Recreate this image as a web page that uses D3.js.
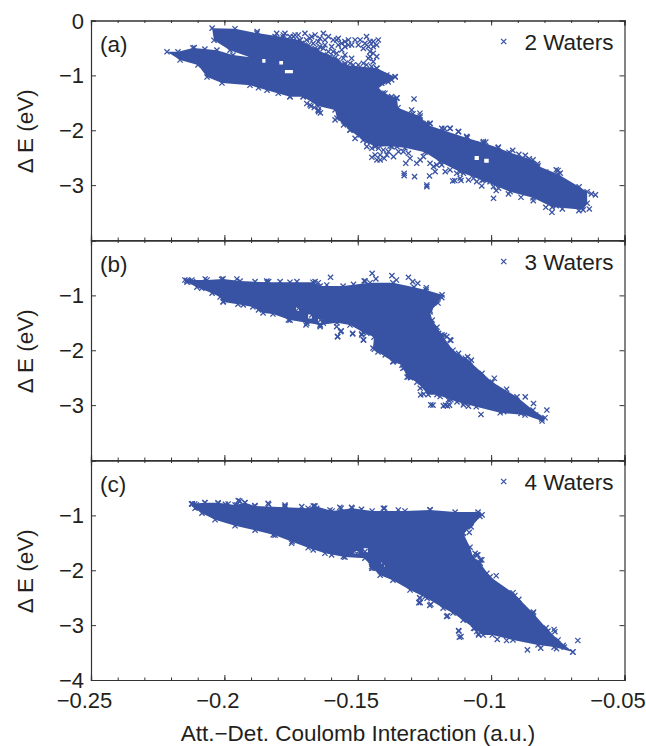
<!DOCTYPE html>
<html>
<head>
<meta charset="utf-8">
<script src="https://cdn.jsdelivr.net/npm/d3@7"></script>
<style>
  html, body { margin: 0; padding: 0; background: #fff; }
  text { font-family: "Liberation Sans", Arial, sans-serif; fill: #231f20; }
</style>
</head>
<body>
<div id="chart"></div>
<script>
// dense part of each cloud: outline [x, dE]
const outlineA = [[-.2215,-.57],[-.2174,-.57],[-.2118,-.5],[-.2073,-.52],[-.2028,-.54],[-.1968,-.63],[-.1904,-.67],[-.1979,-.54],[-.2039,-.36],[-.2046,-.14],[-.196,-.15],[-.1878,-.23],[-.178,-.3],[-.1716,-.36],[-.1649,-.54],[-.1585,-.68],[-.1548,-.81],[-.1428,-.87],[-.136,-1.03],[-.1386,-1.12],[-.1424,-1.23],[-.1405,-1.32],[-.1353,-1.41],[-.1349,-1.59],[-.1293,-1.7],[-.1266,-1.74],[-.124,-1.9],[-.118,-2],[-.109,-2.14],[-.103,-2.23],[-.0974,-2.32],[-.0933,-2.4],[-.0843,-2.54],[-.0824,-2.65],[-.0749,-2.8],[-.067,-3.03],[-.064,-3.12],[-.064,-3.33],[-.0655,-3.45],[-.0771,-3.4],[-.0843,-3.23],[-.0929,-3.12],[-.1034,-2.91],[-.1116,-2.76],[-.1191,-2.58],[-.1248,-2.4],[-.1323,-2.32],[-.1379,-2.29],[-.1435,-2.3],[-.148,-2.18],[-.1529,-2],[-.1578,-1.78],[-.1585,-1.63],[-.1649,-1.56],[-.1705,-1.39],[-.1754,-1.39],[-.184,-1.27],[-.1904,-1.18],[-.2009,-1.14],[-.2065,-1.03],[-.2099,-.81],[-.2166,-.72]];
const outlineB = [[-.2148,-.72],[-.2065,-.72],[-.2005,-.7],[-.1941,-.74],[-.184,-.76],[-.1754,-.76],[-.1668,-.76],[-.1641,-.83],[-.1555,-.83],[-.1454,-.77],[-.1368,-.77],[-.1289,-.85],[-.1244,-.9],[-.1184,-.99],[-.1199,-1.14],[-.1229,-1.3],[-.1221,-1.45],[-.1203,-1.58],[-.1184,-1.72],[-.1143,-2],[-.1079,-2.21],[-.0996,-2.58],[-.0903,-2.85],[-.0843,-3.09],[-.0798,-3.23],[-.0809,-3.29],[-.0873,-3.18],[-.0966,-3.14],[-.1056,-3.03],[-.1128,-2.94],[-.1203,-2.81],[-.1236,-2.81],[-.1278,-2.58],[-.1315,-2.49],[-.1334,-2.27],[-.1368,-2.21],[-.1424,-2.03],[-.1443,-1.96],[-.1439,-1.76],[-.148,-1.67],[-.1529,-1.54],[-.1578,-1.5],[-.1641,-1.54],[-.1754,-1.45],[-.1818,-1.34],[-.1855,-1.32],[-.1893,-1.21],[-.1949,-1.16],[-.2005,-1.12],[-.2016,-1.03],[-.2046,-.96],[-.2103,-.85],[-.214,-.76]];
const outlineC = [[-.2121,-.79],[-.2073,-.77],[-.2024,-.77],[-.196,-.81],[-.1923,-.77],[-.1885,-.83],[-.1773,-.85],[-.1686,-.87],[-.166,-.83],[-.1596,-.92],[-.1521,-.87],[-.1446,-.92],[-.1323,-.92],[-.1229,-.9],[-.1135,-.94],[-.1049,-.94],[-.1034,-.99],[-.1075,-1.21],[-.1105,-1.32],[-.1079,-1.58],[-.1068,-1.76],[-.1041,-1.87],[-.1004,-2.12],[-.0918,-2.41],[-.0843,-2.78],[-.0794,-3.05],[-.0749,-3.27],[-.0693,-3.49],[-.0764,-3.4],[-.0824,-3.36],[-.0918,-3.27],[-.0996,-3.18],[-.103,-3.18],[-.1105,-2.91],[-.1143,-2.78],[-.118,-2.69],[-.124,-2.51],[-.1304,-2.36],[-.1368,-2.18],[-.1416,-2.09],[-.1446,-1.96],[-.1473,-1.78],[-.1548,-1.76],[-.1623,-1.69],[-.1686,-1.59],[-.1746,-1.48],[-.181,-1.36],[-.1885,-1.27],[-.196,-1.19],[-.2035,-1.08],[-.2084,-.96],[-.211,-.87]];

// white gaps inside the dense part
const holesA = [[[-.1773,-.9],[-.1743,-.9],[-.1743,-.96],[-.1773,-.96]],[[-.1062,-2.47],[-.1046,-2.47],[-.1046,-2.54],[-.1062,-2.54]],[[-.1026,-2.52],[-.1009,-2.52],[-.1009,-2.59],[-.1026,-2.59]],[[-.1858,-.7],[-.1846,-.7],[-.1846,-.77],[-.1858,-.77]],[[-.1794,-.74],[-.178,-.74],[-.178,-.8],[-.1794,-.8]]];
const holesB = [[[-.1731,-1.22],[-.172,-1.22],[-.172,-1.28],[-.1731,-1.28]],[[-.1686,-1.35],[-.1672,-1.35],[-.1672,-1.42],[-.1686,-1.42]],[[-.1649,-1.43],[-.1636,-1.43],[-.1636,-1.5],[-.1649,-1.5]]];
const holesC = [[[-.1512,-1.65],[-.1498,-1.65],[-.1498,-1.7],[-.1512,-1.7]],[[-.1478,-1.6],[-.1462,-1.6],[-.1462,-1.67],[-.1478,-1.67]],[[-.1412,-1.86],[-.1398,-1.86],[-.1398,-1.93],[-.1412,-1.93]]];

// single crosses that can be told apart round the clouds
const pointsA = [[-.2113,-.494],[-.1877,-.201],
  [-.1773,-.234],[-.1754,-.294],[-.1785,-.355],[-.1735,-.446],[-.176,-.477],[-.1717,-.355],[-.1698,-.234],[-.1692,-.355],[-.1667,-.416],[-.1648,-.386],[-.1629,-.234],[-.1642,-.325],[-.161,-.294],[-.1592,-.355],[-.1623,-.446],[-.1598,-.477],[-.1573,-.446],[-.1548,-.386],[-.1535,-.355],[-.156,-.537],[-.1579,-.598],[-.1548,-.628],[-.1573,-.719],[-.151,-.355],[-.1498,-.446],[-.1467,-.294],[-.1454,-.386],[-.1423,-.355],[-.1442,-.477],[-.1454,-.568],[-.1429,-.659],[-.146,-.689],[-.1479,-.78],[-.1517,-.81],[-.1548,-.78],[-.1479,-.507],[-.1442,-.75],[-.1604,-.659],[-.1629,-.628],[-.1654,-.598],[-.1679,-.537],[-.1704,-.507],[-.1523,-.689],[-.1535,-.446],[-.1579,-.355],[-.1673,-.294],[-.1735,-.264],[-.181,-.294],
  [-.1804,-.234],[-.1741,-.294],[-.1723,-.264],[-.1679,-.325],[-.166,-.264],[-.1623,-.355],[-.1642,-.477],[-.166,-.507],[-.161,-.568],[-.1592,-.568],[-.156,-.416],[-.1573,-.325],[-.1523,-.446],[-.1554,-.689],[-.1579,-.78],[-.1529,-.78],[-.1498,-.81],[-.1467,-.81],[-.1448,-.841],[-.1429,-.871],[-.1454,-.659],[-.1442,-.598],[-.1473,-.416],[-.1491,-.355],[-.1442,-.386],[-.1429,-.446],[-.146,-.477],[-.1548,-.477],[-.1629,-.507],[-.1685,-.446],[-.171,-.416],[-.1729,-.386],[-.1754,-.386],[-.1779,-.264],
  [-.136,-1.023],[-.1373,-1.083],[-.1391,-.993],[-.141,-1.144],[-.1398,-1.326],[-.1354,-1.417],[-.1373,-1.387],[-.1289,-1.43],[-.1298,-1.63],[-.1267,-1.69],[-.1242,-1.903],[-.1229,-1.873],[-.1185,-1.964],[-.1154,-1.964],[-.1123,-2.024],[-.1092,-2.115],[-.1798,-1.326],[-.1754,-1.387],[-.1704,-1.387],[-.1679,-1.539],[-.1648,-1.63],[-.1585,-1.812],
  [-.1553,-1.904],[-.1529,-1.995],[-.151,-2.147],[-.1491,-2.086],[-.1466,-2.208],[-.1447,-2.329],[-.1435,-2.45],[-.1447,-2.493],[-.1416,-2.541],[-.1401,-2.511],[-.1385,-2.39],[-.1366,-2.481],[-.1347,-2.39],[-.1422,-2.329],[-.1372,-2.299],[-.132,-2.602],[-.1279,-2.602],[-.1266,-2.541],[-.131,-2.42],[-.1326,-2.784],[-.1326,-2.827],[-.1287,-2.845],[-.1241,-2.997],[-.1241,-3.027],[-.1231,-2.833],[-.121,-2.754],[-.1216,-2.663],[-.1172,-2.754],[-.1144,-2.924],[-.1116,-2.875],[-.1129,-2.784],[-.1085,-2.906],[-.1054,-2.936],[-.1035,-3.015],[-.1066,-2.875],[-.0991,-3.24],[-.0991,-3.027],[-.0972,-3.058],[-.1647,-1.661],[-.1241,-1.874],[-.1154,-1.965],[-.1122,-2.026],[-.1091,-2.117],[-.1029,-2.208],
  [-.1466,-2.299],[-.1435,-2.268],[-.1404,-2.359],[-.1391,-2.45],[-.1416,-2.45],[-.1428,-2.541],[-.1353,-2.299],[-.1329,-2.39],[-.1304,-2.511],[-.1254,-2.48],[-.1229,-2.602],[-.1204,-2.632],[-.1185,-2.632],[-.1154,-2.724],[-.1104,-2.784],[-.1066,-2.784],[-.1029,-2.906],[-.1004,-2.936],
  [-.1648,-1.635],[-.164,-1.684],[-.1663,-1.586],[-.1691,-1.513],[-.1675,-1.562],[-.1787,-1.281],[-.1872,-1.226],[-.1229,-1.879],[-.1175,-1.97],[-.1059,-2.245],[-.102,-2.214],[-.0973,-2.306],[-.0919,-2.367],[-.0896,-2.44],[-.0942,-2.489],[-.0872,-2.458],[-.0857,-2.519],[-.0826,-2.611],[-.0749,-2.733],[-.0741,-2.782],[-.0756,-2.721],[-.0795,-2.763],[-.0826,-2.763],[-.0857,-2.794],
  [-.1136,-2.916],[-.1113,-2.916],[-.0981,-3.099],[-.0935,-3.16],[-.0888,-3.221],[-.0842,-3.282],[-.0795,-3.404],[-.0772,-3.495],[-.0756,-3.373],[-.0671,-3.465],[-.0632,-3.434],[-.0609,-3.178],[-.0624,-3.16],[-.0733,-3.434]];
const pointsB = [[-.2135,-.73],[-.2119,-.75],[-.1602,-.67],[-.1446,-.6],[-.1372,-.64],[-.131,-.67],[-.1355,-.72],[-.1275,-.78],[-.1294,-.75],[-.1243,-.86],[-.1432,-.7],[-.1472,-.74],[-.1648,-.77],[-.1834,-.75],[-.1185,-1.04],[-.1229,-1.27],[-.1365,-2.2],[-.1326,-2.32],[-.1302,-2.5],[-.1256,-2.66],[-.1253,-2.8],[-.1218,-3],[-.1171,-3],[-.1156,-3],[-.1151,-2.9],[-.1101,-2.96],[-.1085,-3.02],[-.1038,-3.17],[-.0953,-3.12],[-.0888,-3.15],[-.0841,-2.97],[-.0791,-3.09],[-.0872,-2.85],[-.0942,-2.71],[-.0988,-2.51],[-.1034,-2.42],[-.1088,-2.12],[-.1151,-1.82],[-.1175,-1.73],[-.1074,-2.18],[-.0833,-3.18],[-.081,-3.25],[-.0903,-2.97],[-.0888,-3.06],
  [-.2141,-.731],[-.2122,-.719],[-.1722,-1.235],[-.1691,-1.478],[-.1672,-1.357],[-.164,-1.448],[-.1629,-1.508],[-.1641,-1.569],[-.1694,-1.539],[-.1579,-1.569],[-.1562,-1.648],[-.1576,-1.751],[-.1519,-1.69],[-.1485,-1.721],[-.1479,-1.812],[-.1466,-1.69],[-.1476,-.737],[-.1841,-.737],[-.176,-1.448],[-.1872,-1.265],[-.1929,-1.174],[-.2004,-1.114],[-.2085,-.871],[-.166,-.75],[-.1953,-.701],[-.2072,-.701],[-.201,-.707],[-.1885,-.75],[-.1791,-.75],[-.1728,-.75],[-.1616,-.81],[-.1516,-.798],
  [-.1691,-1.509],[-.1641,-1.539],[-.1564,-1.66],[-.1575,-1.752],[-.1519,-1.703],[-.1485,-1.703],[-.1478,-1.812],[-.1438,-1.982],[-.1397,-2.085],[-.1368,-2.207],[-.1331,-2.328],[-.131,-2.48],[-.1266,-2.692],[-.1264,-2.814],[-.1226,-2.996],[-.1179,-3.014],[-.1164,-3.014],[-.116,-2.905],[-.1104,-2.996],[-.1191,-2.844],[-.1166,-1.752],[-.1154,-1.812],[-.1122,-2.055],[-.1097,-2.146],[-.1197,-1.691]];
const pointsC = [[-.212,-.79],[-.2105,-.81],[-.1942,-.74],[-.1996,-.8],[-.1834,-.8],[-.1772,-.83],[-.1663,-.83],[-.1562,-.87],[-.1399,-.87],[-.1229,-.9],[-.105,-.98],[-.1042,-1.02],[-.1082,-1.31],[-.1105,-1.33],[-.105,-1.72],[-.1035,-1.81],[-.1046,-1.85],[-.0981,-2.1],[-.0911,-2.46],[-.0896,-2.53],[-.0841,-2.76],[-.0764,-3.08],[-.0761,-3.12],[-.0764,-3.31],[-.073,-3.37],[-.0726,-3.4],[-.0675,-3.28],[-.0694,-3.49],[-.0755,-3.43],[-.0814,-3.42],[-.0864,-3.45],[-.0942,-3.28],[-.0977,-3.26],[-.1047,-3.18],[-.1062,-3.06],[-.1121,-3.11],[-.1113,-3.21],[-.1167,-2.84],[-.1268,-2.5],[-.1271,-2.59],[-.123,-2.64],[-.1438,-1.96],[-.1407,-1.93],[-.0787,-3.11],[-.078,-3.32],[-.0826,-3.26],
  [-.2123,-.792],[-.2111,-.792],[-.1948,-.731],[-.1954,-.81],[-.1923,-.768],[-.2073,-.768],[-.2023,-.78],[-.1986,-.792],[-.1886,-.822],[-.1836,-.78],[-.1773,-.81],[-.171,-.84],[-.1667,-.828],[-.1654,-.871],[-.1604,-.901],[-.1567,-.853],[-.1523,-.853],[-.1486,-.889],[-.1404,-.871],[-.1348,-.901],[-.1448,-1.933],[-.1411,-1.903],[-.1398,-1.86],[-.1423,-1.751],[-.1473,-1.66],[-.1504,-1.69],[-.1554,-1.751],[-.1598,-1.721],[-.1667,-1.63],[-.1748,-1.508],[-.1817,-1.356],
  [-.1447,-1.964],[-.1403,-1.873],[-.1416,-1.964],[-.1266,-2.51],[-.1266,-2.589],[-.1247,-2.48],[-.1226,-2.62],[-.1163,-2.832],[-.1122,-3.099],[-.1119,-3.22],[-.1066,-3.057],[-.1047,-3.16],[-.1054,-3.117],[-.1054,-1.721],[-.1041,-1.812],[-.1016,-2.055],[-.106,-1.691]];

const series = [
  { label: '(a)', name: '2 Waters', outline: outlineA, holes: holesA, points: pointsA, yTicks: [0, -1, -2, -3] },
  { label: '(b)', name: '3 Waters', outline: outlineB, holes: holesB, points: pointsB, yTicks: [-1, -2, -3] },
  { label: '(c)', name: '4 Waters', outline: outlineC, holes: holesC, points: pointsC, yTicks: [-1, -2, -3, -4] }
];
const xMajor = [-.25, -.2, -.15, -.1, -.05];
const xMinor = d3.range(-25, -4).map(d => d / 100);
const yMajor = [0, -1, -2, -3, -4];

const width = 646, height = 746;
const blue = '#3953a4', ink = '#333';
const left = 91, right = 624.5, panelTop = [20.5, 240.5, 460.5], panelH = 219.5;

const x = d3.scaleLinear().domain([-.25, -.05]).range([left, right]);
const minus = s => String(s).replace('-', '\u2212');
const cross = 'M-2.6,-2.6L2.6,2.6M-2.6,2.6L2.6,-2.6';

const svg = d3.select('#chart').append('svg')
  .attr('width', width).attr('height', height)
  .style('display', 'block');

series.forEach((s, i) => {
  const top = panelTop[i];
  const y = d3.scaleLinear().domain([-4, 0]).range([top + panelH, top]);
  const g = svg.append('g');
  const line = d3.line().x(d => x(d[0])).y(d => y(d[1]));

  // dense body, holes cut out with evenodd
  g.append('path')
    .attr('d', [s.outline].concat(s.holes).map(r => line(r) + 'Z').join(''))
    .attr('fill', blue).attr('fill-rule', 'evenodd');

  g.selectAll('.mark').data(s.points.concat(s.outline)).join('path')
    .attr('class', 'mark')
    .attr('transform', d => `translate(${x(d[0])},${y(d[1])})`)
    .attr('d', cross)
    .attr('fill', 'none').attr('stroke', blue).attr('stroke-width', 1.3);

  // frame and inward ticks
  const xb = d3.axisBottom(x).tickValues(xMajor).tickSize(-5).tickFormat('');
  const xt = d3.axisTop(x).tickValues(xMajor).tickSize(-5).tickFormat('');
  const xbm = d3.axisBottom(x).tickValues(xMinor).tickSize(-2.5).tickFormat('');
  const xtm = d3.axisTop(x).tickValues(xMinor).tickSize(-2.5).tickFormat('');
  const yl = d3.axisLeft(y).tickValues(yMajor).tickSize(-5).tickFormat('');
  const yr = d3.axisRight(y).tickValues(yMajor).tickSize(-5).tickFormat('');
  const yAt = `translate(0,${top + panelH})`, tAt = `translate(0,${top})`;
  [[xb, yAt], [xbm, yAt], [xt, tAt], [xtm, tAt], [yl, `translate(${left},0)`], [yr, `translate(${right},0)`]].forEach(a => {
    const ax = g.append('g').attr('transform', a[1]).call(a[0]);
    ax.selectAll('path,line').attr('stroke', ink).attr('stroke-width', 1);
    ax.select('.domain').attr('stroke-width', 1.2);
  });

  // y tick labels
  g.selectAll('.ylab').data(s.yTicks).join('text')
    .attr('class', 'ylab')
    .attr('x', 84).attr('y', d => y(d) + 8)
    .attr('text-anchor', 'end').attr('font-size', 22)
    .text(minus);

  g.append('text')
    .attr('transform', `translate(32.5,${y(-2) + 1}) rotate(-90)`)
    .attr('text-anchor', 'middle').attr('font-size', 22.5)
    .text('\u0394 E (eV)');

  g.append('text').attr('x', 100).attr('y', top + 31)
    .attr('font-size', 22.5).text(s.label);
  g.append('text').attr('x', 524.4).attr('y', top + 29)
    .attr('font-size', 22.5).text(s.name);
  g.append('path')
    .attr('transform', `translate(503.7,${top + 21})`)
    .attr('d', cross)
    .attr('fill', 'none').attr('stroke', blue).attr('stroke-width', 1.3);
});

// x tick labels on the last panel only
svg.selectAll('.xlab').data(xMajor).join('text')
  .attr('class', 'xlab')
  .attr('x', d => x(d) - 6.5).attr('y', 708)
  .attr('text-anchor', 'middle').attr('font-size', 22)
  .text(minus);

svg.append('text')
  .attr('x', 358).attr('y', 741)
  .attr('text-anchor', 'middle').attr('font-size', 22.5)
  .text('Att.\u2212Det. Coulomb Interaction (a.u.)');
</script>
</body>
</html>
